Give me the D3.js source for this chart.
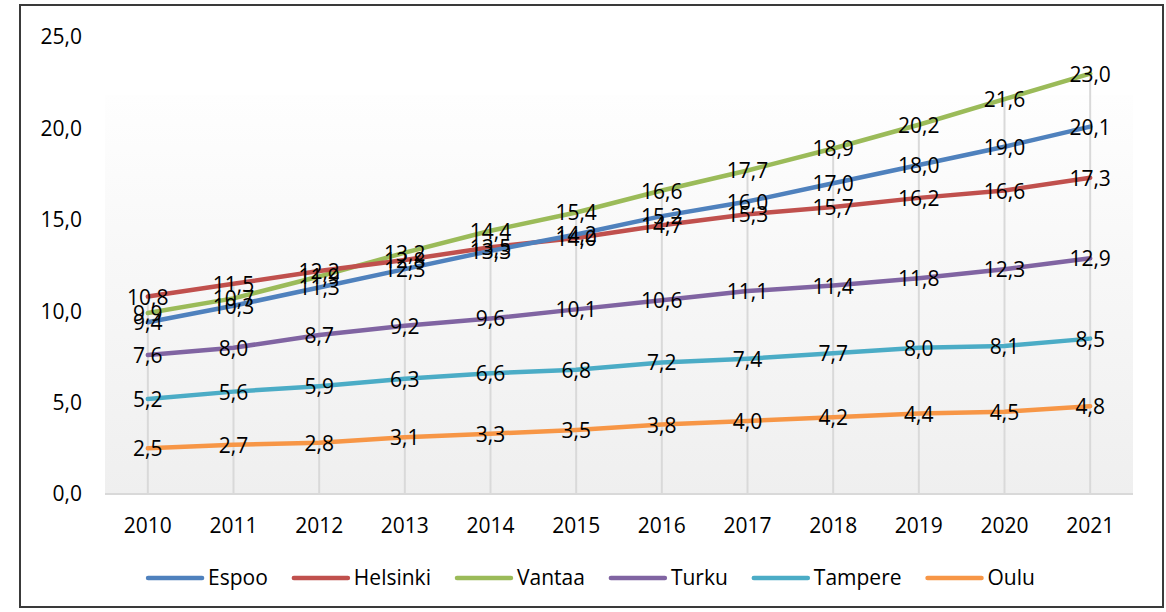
<!DOCTYPE html>
<html>
<head>
<meta charset="utf-8">
<script src="https://cdn.jsdelivr.net/npm/d3@7"></script>
<style>
	body { margin:0; background:#fff; }
	text { font-family:"Open Sans", sans-serif; fill:#000; }
</style>
</head>
<body>
<div class="chart"></div>
<script>
var years = ["2010","2011","2012","2013","2014","2015","2016","2017","2018","2019","2020","2021"];
var cities = ["Espoo","Helsinki","Vantaa","Turku","Tampere","Oulu"];
var colors = ["#4F81BD","#C0504D","#9BBB59","#8064A2","#4BACC6","#F79646"];
var espoo    = [9.4,10.3,11.3,12.3,13.3,14.2,15.2,16.0,17.0,18.0,19.0,20.1];
var helsinki = [10.8,11.5,12.2,12.8,13.5,14.0,14.7,15.3,15.7,16.2,16.6,17.3];
var vantaa   = [9.9,10.7,11.9,13.2,14.4,15.4,16.6,17.7,18.9,20.2,21.6,23.0];
var turku    = [7.6,8.0,8.7,9.2,9.6,10.1,10.6,11.1,11.4,11.8,12.3,12.9];
var tampere  = [5.2,5.6,5.9,6.3,6.6,6.8,7.2,7.4,7.7,8.0,8.1,8.5];
var oulu     = [2.5,2.7,2.8,3.1,3.3,3.5,3.8,4.0,4.2,4.4,4.5,4.8];
var yTicks = [0,5,10,15,20,25];

var series = [espoo,helsinki,vantaa,turku,tampere,oulu];

function drawChart(){
	var width = 1166, height = 612
	var svg = d3.select(".chart").append("svg").attr("width",width).attr("height",height)
	var fmt = function(v){ return v.toFixed(1).replace(".",",") }

	var x = d3.scaleBand().domain(years).range([105,1133])
	var y = d3.scaleLinear().domain([0,25]).range([494,37])
	var cx = function(yr){ return x(yr)+x.bandwidth()/2 }

	// outer frame
	svg.append("rect").attr("x",20).attr("y",5).attr("width",1143).attr("height",602)
	.attr("fill","#fff").attr("stroke","#3a3a3a").attr("stroke-width",2)

	// plot area gradient
	var grad = svg.append("defs").append("linearGradient").attr("id","bg")
	.attr("x1",0).attr("y1",0).attr("x2",0).attr("y2",1)
	grad.append("stop").attr("offset","0%").attr("stop-color","#fefefe")
	grad.append("stop").attr("offset","100%").attr("stop-color","#efefef")
	svg.append("rect").attr("x",105).attr("y",95).attr("width",1028).attr("height",399).attr("fill","url(#bg)")

	// drop lines from top value to axis
	svg.append("g").selectAll("line").data(years).enter().append("line")
	.attr("x1",function(d){return cx(d)}).attr("x2",function(d){return cx(d)})
	.attr("y1",function(d,i){return y(d3.max(series,function(s){return s[i]}))})
	.attr("y2",y(0))
	.attr("stroke","#d9d9d9").attr("stroke-width",2)

	// x axis line
	svg.append("line").attr("x1",105).attr("x2",1133).attr("y1",y(0)).attr("y2",y(0))
	.attr("stroke","#d9d9d9").attr("stroke-width",2)

	// y tick labels
	svg.append("g").selectAll("text").data(yTicks).enter().append("text")
	.attr("x",82).attr("y",function(d){return y(d)}).attr("dy","0.35em")
	.attr("text-anchor","end").style("font-size","21px")
	.text(function(d){return fmt(d)})

	// x tick labels
	svg.append("g").selectAll("text").data(years).enter().append("text")
	.attr("x",function(d){return cx(d)}).attr("y",526).attr("dy","0.35em")
	.attr("text-anchor","middle").style("font-size","21px")
	.text(function(d){return d})

	var line = d3.line().x(function(d,i){return cx(years[i])}).y(function(d){return y(d)})

	// lines, bottom series first so Espoo ends on top like the original
	var order = [5,4,3,2,1,0]
	order.forEach(function(k){
		svg.append("path").datum(series[k])
		.attr("d",line).attr("fill","none")
		.attr("stroke",colors[k]).attr("stroke-width",4.5)
		.attr("stroke-linecap","round").attr("stroke-linejoin","round")
	})

	// data labels, centered on points (overlapping as in the original)
	order.forEach(function(k){
		svg.append("g").selectAll("text").data(series[k]).enter().append("text")
		.attr("x",function(d,i){return cx(years[i])})
		.attr("y",function(d){return y(d)}).attr("dy","0.38em")
		.attr("text-anchor","middle").style("font-size","21px")
		.text(function(d){return fmt(d)})
	})

	// legend
	var legend = svg.append("g")
	var pos = 0
	cities.forEach(function(c,i){
		var g = legend.append("g").attr("transform","translate("+pos+",0)")
		g.append("line").attr("x1",0).attr("x2",54).attr("y1",0).attr("y2",0)
		.attr("stroke",colors[i]).attr("stroke-width",4.5).attr("stroke-linecap","round")
		var t = g.append("text").attr("x",60).attr("y",0).attr("dy","0.35em")
		.style("font-size","21px").text(c)
		pos += 60 + t.node().getComputedTextLength() + 26
	})
	var total = pos - 26
	legend.attr("transform","translate("+(591.5-total/2)+",578)")
}
drawChart()
</script>
</body>
</html>
